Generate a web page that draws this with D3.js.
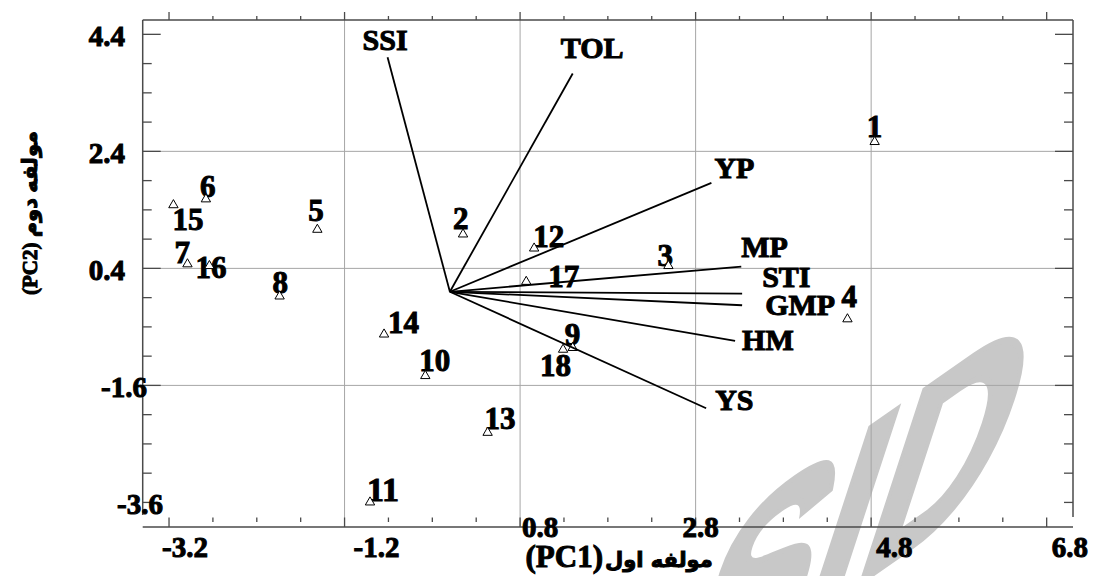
<!DOCTYPE html>
<html>
<head>
<meta charset="utf-8">
<script src="https://cdn.jsdelivr.net/npm/d3@7/dist/d3.min.js"></script>
<style>
  body { margin: 0; background: #fff; }
  text { font-family: "Liberation Serif", "Times New Roman", "DejaVu Sans", serif; font-weight: bold; }
  .ink { stroke: #000; stroke-width: 1px; paint-order: stroke; }
</style>
</head>
<body>
<div id="chart"></div>
<script>
// genotype scores on the first two components
var genotypes = ["1","2","3","4","5","6","7","8","9","10","11","12","13","14","15","16","17","18"];
var pc1 = [4.84, 0.15, 2.49, 4.53, -1.51, -2.78, -2.99, -1.94, 1.40, -0.28, -0.91, 0.96, 0.43, -0.75, -3.15, -2.74, 0.87, 1.29];
var pc2 = [2.58, 1.00, 0.46, -0.45, 1.08, 1.60, 0.49, -0.06, -0.94, -1.42, -3.58, 0.76, -2.39, -0.71, 1.50, 0.46, 0.19, -0.97];

// trait vectors
var traits = ["SSI","TOL","YP","MP","STI","GMP","HM","YS"];
var traitPC1 = [-0.71, 1.40, 2.98, 3.32, 3.33, 3.33, 3.25, 2.92];
var traitPC2 = [4.01, 3.73, 1.86, 0.43, -0.03, -0.23, -0.84, -1.99];

var xTicks = [-3.2, -1.2, 0.8, 2.8, 4.8, 6.8];
var yTicks = [4.4, 2.4, 0.4, -1.6, -3.6];

// label placement (px, relative to the point / vector end)
var genoOffset = [[-8,-4],[-10,-4],[-11,1],[-6,-11],[-9,-8],[-6,-1],[-13,0],[-7,-2],[-8,-2],
                  [-6,-4],[-3,0],[-1,0],[-3,-3],[4,0],[-1,26],[-14,13],[22,6],[-23,27]];
var traitOffset = [[-25,-7],[-12,-16],[3,-5],[0,-10],[20,-7],[23,10],[7,9],[9,2]];
var xLabShift = [-7, 9, 2, -13, 5, 5];
var xLabBase = [557, 557, 537, 537, 557, 557];
var yLabRight = [125, 125, 125, 147, 163];

var W = 1093, H = 576;
var L = 142.7, R = 1073, T = 20, B = 527;

var svg = d3.select("#chart").append("svg")
    .attr("width", W)
    .attr("height", H);

var x = d3.scaleLinear().domain([-3.5, 7.1]).range([L, R]);
var y = d3.scaleLinear().domain([4.645, -4.02]).range([T, B]);

// watermark
svg.append("text")
    .text("SID")
    .attr("transform", "matrix(0.66,-0.46,-0.31,0.95,664,720)")
    .attr("font-size", 295)
    .attr("fill", "#c8c8c8")
    .attr("stroke", "#c8c8c8")
    .attr("stroke-width", 7)
    .style("font-family", "'Liberation Sans', sans-serif");

// grid
var gridX = xTicks.slice(1, -1), gridY = yTicks.slice(1, -1);
svg.selectAll(".gx").data(gridX).enter().append("line")
    .attr("x1", d => x(d)).attr("x2", d => x(d))
    .attr("y1", T).attr("y2", B)
    .attr("stroke", "#a6a6a6").attr("stroke-width", 1);
svg.selectAll(".gy").data(gridY).enter().append("line")
    .attr("x1", L).attr("x2", R)
    .attr("y1", d => y(d)).attr("y2", d => y(d))
    .attr("stroke", "#a6a6a6").attr("stroke-width", 1);

// frame
var axisCol = "#4a4a4a";
svg.append("line").attr("x1", L).attr("x2", R).attr("y1", T).attr("y2", T)
    .attr("stroke", axisCol).attr("stroke-width", 1.5);
svg.append("line").attr("x1", L).attr("x2", R).attr("y1", B).attr("y2", B)
    .attr("stroke", axisCol).attr("stroke-width", 1.5);
svg.append("line").attr("x1", L).attr("x2", L).attr("y1", T).attr("y2", 515)
    .attr("stroke", axisCol).attr("stroke-width", 1.5);
svg.append("line").attr("x1", R).attr("x2", R).attr("y1", T).attr("y2", 517)
    .attr("stroke", axisCol).attr("stroke-width", 1.5);

// ticks every 0.5
var xMinor = d3.range(-3.2, 6.85, 0.5).map(d => +d.toFixed(1));
var yMinor = d3.range(-3.6, 4.45, 0.5).map(d => +d.toFixed(1));
var isMajorX = d => xTicks.indexOf(d) >= 0;
var isLongY = d => gridY.indexOf(d) >= 0 || d === 4.4;

svg.selectAll(".tt").data(xMinor).enter().append("line")
    .attr("x1", d => x(d)).attr("x2", d => x(d))
    .attr("y1", T).attr("y2", d => isMajorX(d) ? T - 8 : T - 4)
    .attr("stroke", axisCol).attr("stroke-width", 1.3);
svg.selectAll(".tb").data(xMinor).enter().append("line")
    .attr("x1", d => x(d)).attr("x2", d => x(d))
    .attr("y1", d => isMajorX(d) ? B : B - 5).attr("y2", B - 9.5)
    .attr("stroke", axisCol).attr("stroke-width", 1.3);
svg.selectAll(".tl").data(yMinor).enter().append("line")
    .attr("x1", L).attr("x2", d => isLongY(d) ? L + 18 : L + 9)
    .attr("y1", d => y(d)).attr("y2", d => y(d))
    .attr("stroke", axisCol).attr("stroke-width", 1.3);
svg.selectAll(".tr").data(yMinor).enter().append("line")
    .attr("x1", R).attr("x2", d => isLongY(d) ? R - 18 : R - 9)
    .attr("y1", d => y(d)).attr("y2", d => y(d))
    .attr("stroke", axisCol).attr("stroke-width", 1.3);

// tick labels
svg.selectAll(".xl").data(xTicks).enter().append("text")
    .attr("class", "ink")
    .text(d => d.toFixed(1))
    .attr("x", (d, i) => x(d) + xLabShift[i])
    .attr("y", (d, i) => xLabBase[i])
    .attr("font-size", 29);
svg.selectAll(".yl").data(yTicks).enter().append("text")
    .attr("class", "ink")
    .text(d => d.toFixed(1))
    .attr("x", (d, i) => yLabRight[i])
    .attr("y", d => y(d) + 12)
    .attr("text-anchor", "end")
    .attr("font-size", 29);

// axis titles
svg.append("text")
    .attr("class", "ink")
    .text("(PC1)")
    .attr("x", 603).attr("y", 567)
    .attr("text-anchor", "end")
    .attr("font-size", 31);
svg.append("text")
    .attr("class", "ink")
    .text("مولفه اول")
    .attr("x", 605).attr("y", 567)
    .attr("font-size", 21)
    .style("font-family", "'DejaVu Sans', sans-serif");
svg.append("text")
    .attr("class", "ink")
    .text("(PC2) مولفه دوم")
    .attr("transform", "translate(37,213) rotate(-90)")
    .attr("text-anchor", "middle")
    .attr("direction", "ltr")
    .attr("font-size", 21)
    .style("font-family", "'Liberation Serif', 'DejaVu Sans', serif");

// genotype labels
svg.selectAll(".gl").data(genotypes).enter().append("text")
    .attr("class", "ink")
    .text(d => d)
    .attr("x", (d, i) => x(pc1[i]) + genoOffset[i][0])
    .attr("y", (d, i) => y(pc2[i]) + genoOffset[i][1])
    .attr("font-size", d => d === "11" ? 34 : 31);

// genotype markers
var tri = d3.symbol().type(d3.symbolTriangle).size(38);
svg.selectAll(".pt").data(genotypes).enter().append("path")
    .attr("d", tri)
    .attr("transform", (d, i) => "translate(" + x(pc1[i]) + "," + (y(pc2[i]) + 1) + ")")
    .attr("fill", "#fff")
    .attr("stroke", "#000")
    .attr("stroke-width", 1);

// trait vectors
svg.selectAll(".vec").data(traits).enter().append("line")
    .attr("x1", x(0)).attr("y1", y(0))
    .attr("x2", (d, i) => x(traitPC1[i]))
    .attr("y2", (d, i) => y(traitPC2[i]))
    .attr("stroke", "#000")
    .attr("stroke-width", 1.8);
svg.selectAll(".vl").data(traits).enter().append("text")
    .attr("class", "ink")
    .text(d => d)
    .attr("x", (d, i) => x(traitPC1[i]) + traitOffset[i][0])
    .attr("y", (d, i) => y(traitPC2[i]) + traitOffset[i][1])
    .attr("font-size", 30);
</script>
</body>
</html>
